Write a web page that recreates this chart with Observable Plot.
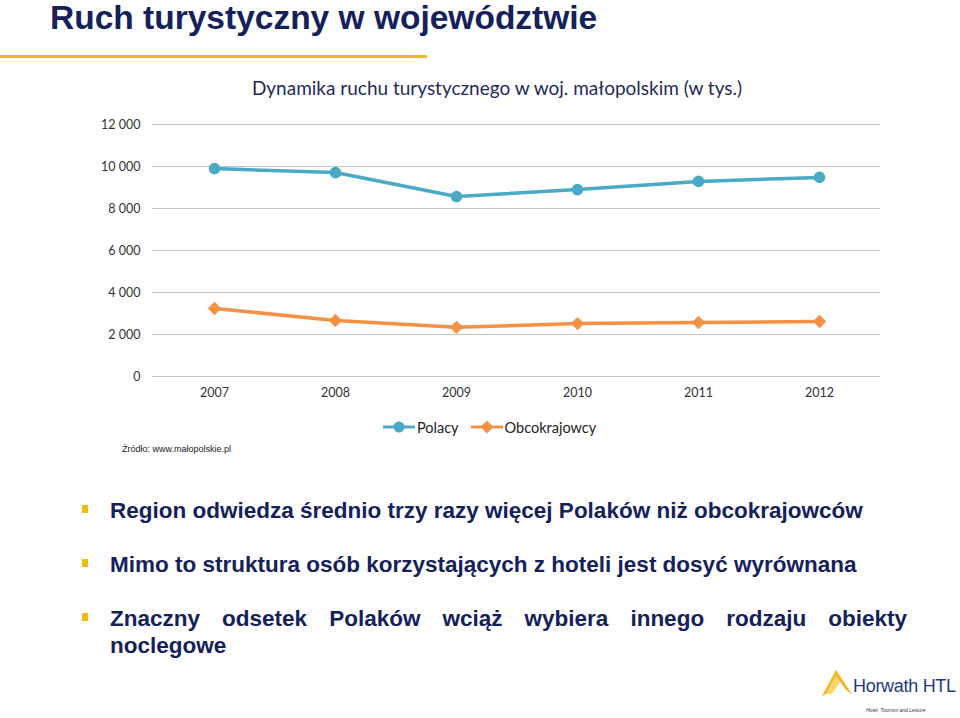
<!DOCTYPE html>
<html>
<head>
<meta charset="utf-8">
<script src="https://cdn.jsdelivr.net/npm/d3@7"></script>
<script src="https://cdn.jsdelivr.net/npm/@observablehq/plot@0.6"></script>
<style>
  html, body { margin: 0; padding: 0; background: #fff; }
  body { width: 960px; height: 718px; position: relative; overflow: hidden; font-family: "Liberation Sans", Arial, sans-serif; }
  .abs { position: absolute; }
  #title { left: 50px; top: 0px; font-size: 33.5px; font-weight: bold; color: #14215a; line-height: 36px; white-space: nowrap; }
  #rule { left: 0; top: 55px; width: 427px; height: 3px; background: #e9b935; }
  #ctitle { left: 0; width: 994px; top: 76px; text-align: center; font-family: Lato, "Open Sans", sans-serif; font-size: 19px; color: #1f2b5b; }
  #chart { left: 0; top: 100px; }
  #legend { top: 417px; left: 383px; font-family: Lato, "Open Sans", sans-serif; font-size: 14.5px; color: #222; display: flex; align-items: center; }
  #legend .item { display: flex; align-items: center; margin-right: 12px; }
  #legend svg { display: block; }
  #source { left: 122px; top: 444px; font-size: 9px; color: #222; }
  .bullet { left: 110px; width: 797px; font-size: 22.5px; font-weight: bold; color: #14215a; line-height: 27px; }
  .bullet .sq { position: absolute; left: -28px; top: 8px; width: 6px; height: 8px; background: #f5bb12; }
  #b3 { text-align: justify; text-align-last: left; }
  #logo { left: 820px; top: 668px; }
  #logotext { left: 853px; top: 676px; font-family: "Liberation Sans", Arial, sans-serif; font-size: 18px; color: #1d3a7a; letter-spacing: -0.3px; }
  #logosub { left: 866px; top: 707px; font-size: 5px; font-style: italic; color: #333; }
</style>
</head>
<body>
<div id="title" class="abs">Ruch turystyczny w województwie</div>
<div id="rule" class="abs"></div>
<div id="ctitle" class="abs">Dynamika ruchu turystycznego w woj. małopolskim (w tys.)</div>
<div id="chart" class="abs"></div>
<div id="legend" class="abs"></div>
<div id="source" class="abs">Źródło: www.małopolskie.pl</div>
<div class="abs bullet" style="top:497px"><span class="sq"></span>Region odwiedza średnio trzy razy więcej Polaków niż obcokrajowców</div>
<div class="abs bullet" style="top:551px"><span class="sq"></span>Mimo to struktura osób korzystających z hoteli jest dosyć wyrównana</div>
<div id="b3" class="abs bullet" style="top:605px"><span class="sq"></span>Znaczny odsetek Polaków wciąż wybiera innego rodzaju obiekty noclegowe</div>
<svg id="logo" class="abs" width="34" height="30" viewBox="0 0 34 30">
  <path d="M2,28 L16,2 L32,26 L26,22 L16,8 L6,26 Z" fill="#f3b521"/>
  <path d="M6,26 L16,8 L20,14 L12,26 Z" fill="#fcd66a"/>
</svg>
<div id="logotext" class="abs">Horwath HTL</div>
<div id="logosub" class="abs">Hotel, Tourism and Leisure</div>
<script>
const years = ["2007", "2008", "2009", "2010", "2011", "2012"];
const seriesNames = ["Polacy", "Obcokrajowcy"];
const polacy = [9900, 9710, 8570, 8900, 9290, 9480];
const obcokrajowcy = [3240, 2670, 2340, 2520, 2570, 2620];
const yTicks = [0, 2000, 4000, 6000, 8000, 10000, 12000];
const colors = ["#4aa9c4", "#f59145"];

const squareDiamond = {
  draw(ctx, size) {
    const s = Math.sqrt(size / Math.PI) * 1.15;
    ctx.moveTo(0, -s); ctx.lineTo(s, 0); ctx.lineTo(0, s); ctx.lineTo(-s, 0); ctx.closePath();
  }
};
const symbols = [d3.symbolCircle, squareDiamond];

const data = [];
years.forEach((y, i) => {
  data.push({year: y, series: seriesNames[0], value: polacy[i]});
  data.push({year: y, series: seriesNames[1], value: obcokrajowcy[i]});
});

const fmt = v => d3.format(",")(v).replace(/,/g, " ");
const shadow = "filter: drop-shadow(1px 2px 1.5px rgba(0,0,0,0.3))";

const chart = Plot.plot({
  width: 960,
  height: 310,
  marginLeft: 152,
  marginRight: 80,
  marginTop: 24,
  marginBottom: 34,
  style: {fontFamily: "Lato, 'Open Sans', sans-serif", fontSize: "12.5px", color: "#333", background: "transparent"},
  x: {type: "point", domain: years, padding: 0.5, label: null, tickSize: 0, tickPadding: 12},
  y: {domain: [0, 12000], ticks: yTicks, tickFormat: fmt, label: null, tickSize: 0, tickPadding: 12},
  color: {domain: seriesNames, range: colors},
  symbol: {domain: seriesNames, range: symbols},
  marks: [
    Plot.gridY(yTicks, {stroke: "#c4c4c4", strokeOpacity: 1, strokeWidth: 1}),
    Plot.line(data, {x: "year", y: "value", z: "series", stroke: "series", strokeWidth: 3.5, style: shadow}),
    Plot.dot(data, {x: "year", y: "value", fill: "series", symbol: "series", r: 5.8, stroke: "none", style: shadow})
  ]
});
document.getElementById("chart").appendChild(chart);

// legend
const leg = document.getElementById("legend");
seriesNames.forEach((name, i) => {
  const item = document.createElement("div");
  item.className = "item";
  const sym = i === 0
    ? `<circle cx="16" cy="10" r="5.5" fill="${colors[i]}"/>`
    : `<path d="M16,3.5 L22.5,10 L16,16.5 L9.5,10 Z" fill="${colors[i]}"/>`;
  item.innerHTML = `<svg width="32" height="20"><line x1="0" x2="32" y1="10" y2="10" stroke="${colors[i]}" stroke-width="3"/>${sym}</svg><span style="margin-left:2px">${name}</span>`;
  leg.appendChild(item);
});
</script>
</body>
</html>
